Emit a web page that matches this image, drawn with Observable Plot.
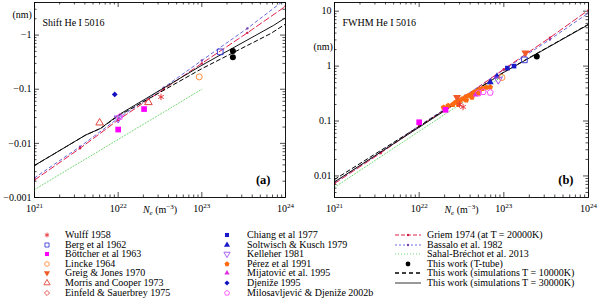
<!DOCTYPE html>
<html><head><meta charset="utf-8">
<script src="https://cdn.jsdelivr.net/npm/d3@7"></script>
<script src="https://cdn.jsdelivr.net/npm/@observablehq/plot@0.6"></script>
<style>
body{margin:0;width:600px;height:300px;background:#fff;font-family:'Liberation Serif',serif;overflow:hidden}
#wrap{position:relative;width:600px;height:300px}
#pa{position:absolute;left:0;top:0}
#pb{position:absolute;left:300px;top:0}
.lg{position:absolute;font-family:'Liberation Serif',serif;font-size:10px;line-height:10px;white-space:nowrap;color:#000}
</style></head><body><div id="wrap"><div id="pa"></div><div id="pb"></div><div id="legend"></div></div>
<script>
// ---------- axis ticks ----------
const xDomain = [1e21, 1e24];
const xTicks = [1e21, 1e22, 1e23, 1e24];
const xTickLabels = ["10^21", "10^22", "10^23", "10^24"];
const yDomainA = [0.001, 4.0];
const yTicksA = [1, 0.1, 0.01, 0.001];
const yTickLabelsA = ["−1", "−0.1", "−0.01", "−0.001"];
const yDomainB = [0.00405, 14.4];
const yTicksB = [10, 1, 0.1, 0.01];
const yTickLabelsB = ["10", "1", "0.1", "0.01"];

// ---------- theory curves, panel (a): |shift| in nm ----------
const griemA   = [[1e21,0.0021],[3.5e21,0.0081],[1e22,0.027],[3.5e22,0.1],[1e23,0.30],[3.5e23,1.1],[1e24,3.4]];
const bassaloA = [[1e21,0.0023],[3.5e21,0.0087],[1e22,0.029],[3.5e22,0.107],[1e23,0.34],[3.5e23,1.33],[1e24,4.6]];
const sahalA   = [[1e21,0.0014],[1e22,0.0118],[1e23,0.1]];
const sim10A   = [[1e21,0.0039],[4.07e21,0.0142],[6.17e21,0.0189],[1e22,0.032],[1e23,0.24],[6.6e23,1.06],[1e24,1.6]];
const sim30A   = [[1e21,0.0039],[4.07e21,0.0142],[6.17e21,0.0189],[1e22,0.0332],[1e23,0.277],[7.2e23,1.51],[1e24,2.09]];

// ---------- theory curves, panel (b): FWHM in nm ----------
const griemB   = [[1e21,0.0073],[3.5e21,0.026],[1e22,0.08],[3.5e22,0.28],[1e23,0.88],[3.5e23,3.3],[1e24,10.5]];
const bassaloB = [[1e21,0.0076],[3.5e21,0.027],[1e22,0.082],[3.5e22,0.29],[1e23,0.86],[3.5e23,3.05],[1e24,9.3]];
const sahalB   = [[1e21,0.0062],[1e22,0.065],[1e23,0.68]];
const sim10B   = [[1e21,0.0086],[1e22,0.08],[1e23,0.78],[1e24,5.8]];
const sim30B   = [[1e21,0.0078],[1e22,0.077],[1e23,0.77],[1e24,5.7]];

// ---------- experiments, panel (a) ----------
const wulffA    = [[3.25e22,0.072]];
const bergA     = [[1.66e23,0.49]];
const bottcherA = [[1e22,0.018],[2.04e22,0.043]];
const linckeA   = [[9.3e22,0.169]];
const morrisA   = [[6.0e21,0.024],[2.3e22,0.057]];
const kelleherA = [[1e22,0.029]];
const djenizeA  = [[9.1e21,0.080]];
const milosA    = [[1.05e22,0.031]];
const thisA     = [[2.35e23,0.51],[2.35e23,0.39]];

// ---------- experiments, panel (b) ----------
const wulffB    = [[3.3e22,0.18],[3.0e22,0.2]];
const bergB     = [[1.75e23,1.3]];
const bottcherB = [[1e22,0.095],[2.05e22,0.16]];
const linckeB   = [[9.5e22,0.62]];
const greigB    = [[2.8e22,0.27],[1.8e23,1.75]];
const chiangB   = [[1.1e23,0.92],[1.32e23,1.0]];
const soltwischB= [[6.9e22,0.51],[8.3e22,0.65]];
const kelleherB = [[8.6e22,0.57]];
const perezB    = [[1.94e22,0.177],[2.2e22,0.19],[2.5e22,0.2],[2.7e22,0.22],[2.9e22,0.2],[3.0e22,0.23],[3.2e22,0.25],[3.5e22,0.27],[3.6e22,0.24],[3.8e22,0.29],[4.1e22,0.3],[4.2e22,0.27],[4.4e22,0.33],[4.8e22,0.35],[5.0e22,0.32],[5.2e22,0.37],[5.6e22,0.39],[6.2e22,0.41],[6.9e22,0.415]];
const mijatovicB= [[4.6e22,0.3]];
const milosB    = [[5.0e22,0.32],[5.7e22,0.34],[6.9e22,0.33]];
const thisB     = [[2.45e23,1.5]];

// ---------- legend lists ----------
const legendCol1 = ["wulff", "berg", "bottcher", "lincke", "greig", "morris", "einfeld"];
const legendCol2 = ["chiang", "soltwisch", "kelleher", "perez", "mijatovic", "djenize", "milos"];
const legendCol3 = ["griem", "bassalo", "sahal", "thiswork", "sim10", "sim30"];

// ---------- symbols ----------
const triDown = {draw(ctx, size){const s=Math.sqrt(4*size/Math.sqrt(3)),h=s*Math.sqrt(3)/2;ctx.moveTo(-s/2,-h/3);ctx.lineTo(s/2,-h/3);ctx.lineTo(0,2*h/3);ctx.closePath();}};
const pentagon = {draw(ctx, size){const r=Math.sqrt(size/(2.5*Math.sin(2*Math.PI/5)));for(let i=0;i<5;i++){const a=-Math.PI/2+i*2*Math.PI/5;const px=r*Math.cos(a),py=r*Math.sin(a);i?ctx.lineTo(px,py):ctx.moveTo(px,py);}ctx.closePath();}};

const styles = {
  wulff:    {name:"Wulff 1958", symbol:d3.symbolAsterisk, color:"#e8383d", filled:false, r:3},
  berg:     {name:"Berg et al 1962", symbol:d3.symbolSquare, color:"#4040d8", filled:false, r:3.2},
  bottcher: {name:"Böttcher et al 1963", symbol:d3.symbolSquare, color:"#ff00ff", filled:true, r:3.2},
  lincke:   {name:"Lincke 1964", symbol:d3.symbolCircle, color:"#ff8c3c", filled:false, r:3},
  greig:    {name:"Greig & Jones 1970", symbol:triDown, color:"#f05a28", filled:true, r:3},
  morris:   {name:"Morris and Cooper 1973", symbol:d3.symbolTriangle, color:"#e0443c", filled:false, r:2.8},
  einfeld:  {name:"Einfeld & Sauerbrey 1975", symbol:d3.symbolDiamond2, color:"#e0443c", filled:false, r:3},
  chiang:   {name:"Chiang et al 1977", symbol:d3.symbolSquare, color:"#1a1ac8", filled:true, r:2.6},
  soltwisch:{name:"Soltwisch & Kusch 1979", symbol:d3.symbolTriangle, color:"#1a1ac8", filled:true, r:2.6},
  kelleher: {name:"Kelleher 1981", symbol:triDown, color:"#a050f0", filled:false, r:3},
  perez:    {name:"Pérez et al 1991", symbol:pentagon, color:"#ff6a10", filled:true, r:2.6},
  mijatovic:{name:"Mijatović et al. 1995", symbol:d3.symbolTriangle, color:"#e030e0", filled:true, r:2},
  djenize:  {name:"Djeniže 1995", symbol:d3.symbolDiamond2, color:"#1010c0", filled:true, r:2.6},
  milos:    {name:"Milosavljević & Djeniže 2002b", symbol:pentagon, color:"#ff50ff", filled:false, r:2.8},
  thiswork: {name:"This work (T-tube)", symbol:d3.symbolCircle, color:"#000", filled:true, r:3}
};
const lineStyles = {
  griem:   {name:"Griem 1974 (at T = 20000K)", color:"#e0204a", dash:"6,3", marker:"#d0204a"},
  bassalo: {name:"Bassalo et al. 1982", color:"#6a6ae0", dash:"3,3", marker:"#7a40b0"},
  sahal:   {name:"Sahal-Bréchot et al. 2013", color:"#70d870", dash:"1,2"},
  sim10:   {name:"This work (simulations T = 10000K)", color:"#000", dash:"4,3"},
  sim30:   {name:"This work (simulations T = 30000K)", color:"#111", dash:null}
};

const W = 300, H = 218, MT = 2, MB = 21, ML = 34;
const FONT = "'Liberation Serif', serif";

function logTicks(lo, hi) {
  const major = [], minor = [];
  for (let e = Math.floor(Math.log10(lo)); e <= Math.ceil(Math.log10(hi)); e++)
    for (let k = 1; k <= 9; k++) {
      const v = +(k + "e" + e);
      if (v >= lo * 0.9999 && v <= hi * 1.0001) (k === 1 ? major : minor).push(v);
    }
  return {major, minor};
}

function supify(svg) {
  d3.select(svg).selectAll("text").each(function () {
    const t = d3.select(this), s = this.textContent;
    let m;
    if ((m = s.match(/^10\^(\d+)$/))) {
      t.text("");
      t.append("tspan").text("10");
      t.append("tspan").attr("dy", "-4").attr("font-size", "7px").text(m[1]);
    } else if (s === "__NE__") {
      t.text("");
      t.append("tspan").attr("font-style", "italic").text("N");
      t.append("tspan").attr("dy", "2").attr("font-size", "7px").attr("font-style", "italic").text("e");
      t.append("tspan").attr("dy", "-2").text(" (m");
      t.append("tspan").attr("dy", "-4").attr("font-size", "7px").text("−3");
      t.append("tspan").attr("dy", "4").text(")");
    }
  });
}

function makePanel(cfg) {
  const mr = cfg.marginRight;
  const iw = W - ML - mr, ih = H - MT - MB;
  const tx = logTicks(...xDomain), ty = logTicks(...cfg.yDomain);
  const ts = {stroke: "#000", strokeWidth: 0.7};
  const marks = [];
  [[tx.major, 5], [tx.minor, 2.5]].forEach(([arr, len]) => {
    marks.push(Plot.tickX(arr, {x: d => d, insetTop: ih - len, ...ts}));
    marks.push(Plot.tickX(arr, {x: d => d, insetBottom: ih - len, ...ts}));
  });
  [[ty.major, 5], [ty.minor, 2.5]].forEach(([arr, len]) => {
    marks.push(Plot.tickY(arr, {y: d => d, insetRight: iw - len, ...ts}));
    marks.push(Plot.tickY(arr, {y: d => d, insetLeft: iw - len, ...ts}));
  });
  marks.push(Plot.axisX({ticks: xTicks, tickSize: 0, tickPadding: 7, tickFormat: d => xTickLabels[xTicks.indexOf(d)], fontSize: 10, label: null}));
  marks.push(Plot.axisY({ticks: cfg.yTicks, tickSize: 0, tickPadding: 3, tickFormat: d => cfg.yLabels[cfg.yTicks.indexOf(d)], fontSize: 10, label: null}));
  for (const L of cfg.lines) {
    const s = lineStyles[L.key];
    marks.push(Plot.line(L.data, {x: d => d[0], y: d => d[1], stroke: s.color, strokeWidth: 1, strokeDasharray: s.dash, clip: true}));
    if (s.marker) marks.push(Plot.dot(L.data, {x: d => d[0], y: d => d[1], r: 1.2, fill: s.marker, clip: true}));
  }
  for (const P of cfg.points) {
    const s = styles[P.key];
    marks.push(Plot.dot(P.data, {x: d => d[0], y: d => d[1], symbol: s.symbol, r: s.r,
      fill: s.filled ? s.color : "none", stroke: s.filled ? "none" : s.color, strokeWidth: 1}));
  }
  marks.push(Plot.frame({stroke: "#000", strokeWidth: 0.9}));
  marks.push(Plot.text([cfg.title], {frameAnchor: "top-left", dx: 8, dy: 16, textAnchor: "start", fontSize: 10}));
  marks.push(Plot.text([cfg.tag], {frameAnchor: "bottom-right", dx: -15, dy: -14, textAnchor: "end", fontSize: 12.5, fontWeight: "bold"}));
  marks.push(Plot.text(["(nm)"], {frameAnchor: "top-left", dx: cfg.nmDx, dy: cfg.nmDy, fontSize: 10}));
  marks.push(Plot.text(["__NE__"], {frameAnchor: "bottom", dy: 15, fontSize: 10}));
  const svg = Plot.plot({
    width: W, height: H, marginTop: MT, marginBottom: MB, marginLeft: ML, marginRight: mr,
    x: {type: "log", domain: xDomain}, y: {type: "log", domain: cfg.yDomain},
    style: {fontFamily: FONT, fontSize: "10px", background: "transparent", overflow: "visible"},
    marks
  });
  supify(svg);
  return svg;
}

document.getElementById("pa").append(makePanel({
  marginRight: 15, yDomain: yDomainA, yTicks: yTicksA, yLabels: yTickLabelsA,
  title: "Shift He I 5016", tag: "(a)", nmDx: -22, nmDy: 8,
  lines: [{key: "sahal", data: sahalA}, {key: "bassalo", data: bassaloA}, {key: "griem", data: griemA}, {key: "sim10", data: sim10A}, {key: "sim30", data: sim30A}],
  points: [{key: "wulff", data: wulffA}, {key: "berg", data: bergA}, {key: "bottcher", data: bottcherA}, {key: "lincke", data: linckeA},
           {key: "morris", data: morrisA}, {key: "kelleher", data: kelleherA}, {key: "djenize", data: djenizeA}, {key: "milos", data: milosA}, {key: "thiswork", data: thisA}]
}));
document.getElementById("pb").append(makePanel({
  marginRight: 12, yDomain: yDomainB, yTicks: yTicksB, yLabels: yTickLabelsB,
  title: "FWHM He I 5016", tag: "(b)", nmDx: -21, nmDy: 40,
  lines: [{key: "sahal", data: sahalB}, {key: "bassalo", data: bassaloB}, {key: "griem", data: griemB}, {key: "sim10", data: sim10B}, {key: "sim30", data: sim30B}],
  points: [{key: "perez", data: perezB}, {key: "milos", data: milosB}, {key: "mijatovic", data: mijatovicB}, {key: "wulff", data: wulffB},
           {key: "greig", data: greigB}, {key: "bottcher", data: bottcherB}, {key: "soltwisch", data: soltwischB}, {key: "chiang", data: chiangB},
           {key: "kelleher", data: kelleherB}, {key: "lincke", data: linckeB}, {key: "berg", data: bergB}, {key: "thiswork", data: thisB}]
}));

// ---------- legend ----------
const lg = d3.select("#legend");
const rowY = i => 230 + i * 9.6;
function symItem(key, i, symX, textX) {
  const s = styles[key];
  const area = Math.PI * Math.min(s.r, 2.3) ** 2;
  const svg = lg.append("svg").attr("width", 10).attr("height", 10)
    .style("position", "absolute").style("left", (symX - 5) + "px").style("top", (rowY(i)) + "px");
  svg.append("path").attr("transform", "translate(5,5)").attr("d", d3.symbol(s.symbol, area)())
    .attr("fill", s.filled ? s.color : "none").attr("stroke", s.filled ? "none" : s.color).attr("stroke-width", 0.9);
  lg.append("div").attr("class", "lg").style("left", textX + "px").style("top", rowY(i) + "px").text(s.name);
}
legendCol1.forEach((k, i) => symItem(k, i, 46.5, 65));
legendCol2.forEach((k, i) => symItem(k, i, 227, 247));
legendCol3.forEach((k, i) => {
  const svg = lg.append("svg").attr("width", 28).attr("height", 10)
    .style("position", "absolute").style("left", "394px").style("top", rowY(i) + "px");
  if (k === "thiswork") {
    svg.append("circle").attr("cx", 14).attr("cy", 5).attr("r", 2.4).attr("fill", "#000");
  } else {
    const s = lineStyles[k];
    svg.append("line").attr("x1", 1).attr("x2", 27).attr("y1", 5).attr("y2", 5)
      .attr("stroke", k === "sim30" ? "#999" : s.color).attr("stroke-width", k === "sim30" ? 2 : (k === "sim10" ? 1.4 : 1))
      .attr("stroke-dasharray", k === "griem" ? "4,2" : k === "bassalo" ? "2,2" : s.dash);
    if (s.marker) svg.append("circle").attr("cx", 14).attr("cy", 5).attr("r", 1.2).attr("fill", s.marker);
  }
  const name = k === "thiswork" ? styles.thiswork.name : lineStyles[k].name;
  lg.append("div").attr("class", "lg").style("left", "427px").style("top", rowY(i) + "px").text(name);
});
</script>
</body></html>
